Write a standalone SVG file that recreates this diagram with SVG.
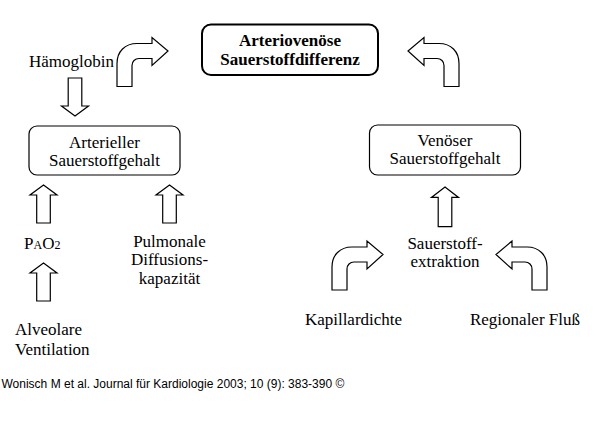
<svg xmlns="http://www.w3.org/2000/svg" xmlns:xlink="http://www.w3.org/1999/xlink" width="600" height="435" viewBox="0 0 600 435">
<style>
.t{font-family:"Liberation Serif","Times New Roman",serif;font-size:17px;fill:#000}
.c{text-anchor:middle}
.b{font-weight:bold}
.box{fill:#fff;stroke:#000;stroke-width:1.2}
.main{fill:#fff;stroke:#000;stroke-width:2}
.arr{fill:#fff;stroke:#000;stroke-width:1.2;stroke-linejoin:miter}
.cap{font-family:"Liberation Sans",Arial,sans-serif;font-size:12px;fill:#000}
</style>
<defs>
<path id="bent" d="M0,43 L0,20 C0,8 8,0 20,0 L35,0 L35,-6 L51,7.5 L35,22 L35,15 L22,15 C18,15 15,18 15,22 L15,43 Z"/>
<path id="up" d="M0,0 L13.5,10 L6.8,10 L6.8,38 L-6.8,38 L-6.8,10 L-13.5,10 Z"/>
</defs>
<rect width="600" height="435" fill="#fff"/>
<g id="connectors">
<use xlink:href="#bent" class="arr" transform="translate(117,43.5)"/>
<use xlink:href="#bent" class="arr" transform="translate(459,43.5) scale(-1,1)"/>
<use xlink:href="#bent" class="arr" transform="translate(332,247)"/>
<use xlink:href="#bent" class="arr" transform="translate(547,247) scale(-1,1)"/>
<use xlink:href="#up" class="arr" transform="translate(75,116) scale(1,-1)"/>
<use xlink:href="#up" class="arr" transform="translate(43.5,185)"/>
<use xlink:href="#up" class="arr" transform="translate(169.5,185)"/>
<use xlink:href="#up" class="arr" transform="translate(43.5,263)"/>
<use xlink:href="#up" class="arr" transform="translate(445,187) scale(1,1.04)"/>
</g>
<g id="node-avdiff">
<rect class="main" x="202" y="24.5" width="176" height="50.5" rx="9"/>
<text class="t c b" x="290" y="46">Arteriovenöse</text>
<text class="t c b" x="290" y="65">Sauerstoffdifferenz</text>
</g>
<g id="node-haemoglobin">
<text class="t" x="29" y="67">Hämoglobin</text>
</g>
<g id="node-arteriell">
<rect class="box" x="29" y="126" width="151" height="49" rx="8"/>
<text class="t c" x="104.5" y="147.5">Arterieller</text>
<text class="t c" x="104.5" y="165.5">Sauerstoffgehalt</text>
</g>
<g id="node-venoes">
<rect class="box" x="369.5" y="125" width="151" height="50" rx="8"/>
<text class="t c" x="445" y="145.5">Venöser</text>
<text class="t c" x="445" y="163.5">Sauerstoffgehalt</text>
</g>
<g id="node-pao2">
<text class="t" x="24" y="248.5">P<tspan font-size="12">A</tspan>O<tspan font-size="12">2</tspan></text>
</g>
<g id="node-pulmonale">
<text class="t c" x="169.5" y="247">Pulmonale</text>
<text class="t c" x="169.5" y="265">Diffusions-</text>
<text class="t c" x="169.5" y="283.5">kapazität</text>
</g>
<g id="node-alveolare">
<text class="t" x="15" y="335">Alveolare</text>
<text class="t" x="15" y="354.5">Ventilation</text>
</g>
<g id="node-extraktion">
<text class="t c" x="445" y="248.5">Sauerstoff-</text>
<text class="t c" x="445" y="267">extraktion</text>
</g>
<g id="node-kapillardichte">
<text class="t c" x="353.5" y="324.5">Kapillardichte</text>
</g>
<g id="node-fluss">
<text class="t c" x="525" y="324.5">Regionaler Fluß</text>
</g>
<text class="cap" x="1.5" y="388">Wonisch M et al. Journal für Kardiologie 2003; 10 (9): 383-390 ©</text>
</svg>
